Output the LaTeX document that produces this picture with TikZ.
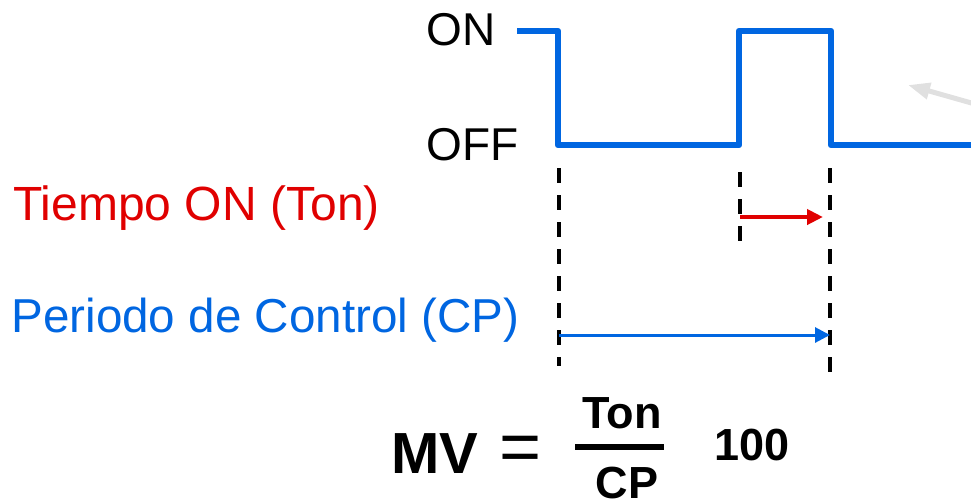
\documentclass[tikz,border=0pt]{standalone}
\usepackage{fontspec}
\setmainfont{Liberation Sans}
\usepackage{xcolor}
\usetikzlibrary{arrows.meta,positioning,calc}
\definecolor{sigblue}{RGB}{0,102,225}
\definecolor{tonred}{RGB}{224,0,0}
\definecolor{hintgray}{RGB}{224,224,224}

\begin{document}
\begin{tikzpicture}[
  x=0.5pt, y=-0.5pt,
  lbl/.style={anchor=base west, inner sep=0pt, font=\fontsize{23}{28}\selectfont},
  frac/.style={anchor=base, inner sep=0pt, font=\fontsize{22.5}{27}\selectfont\bfseries},
  wave/.style={draw=sigblue, line width=3.3pt, line join=round},
  guide/.style={draw=black, line width=1.75pt, dash pattern=on 7.5pt off 6pt},
  tonarrow/.style={draw=tonred, line width=2pt, -{Triangle[length=8pt,width=7.5pt]}},
  cparrow/.style={draw=sigblue, line width=1.5pt, -{Triangle[length=7.5pt,width=7.5pt]}},
  hint/.style={draw=hintgray, line width=2.5pt, -{Triangle[length=11pt,width=8pt]}},
]
\useasboundingbox (0,0) rectangle (971,500);
% signal levels
\node[lbl] (ON) at (426,45) {ON};
\node[lbl] (OFF) at (426,160) {OFF};
\draw[wave] (517,31) -- (558,31) -- (558,145) -- (739,145) -- (739,31)
  -- (831,31) -- (831,145) -- (975,145);
\draw[hint] (975,104) -- (908,85);
% period marks
\coordinate (G1top) at (559,168);
\coordinate (G1bot) at (559,366);
\coordinate (G2top) at (740,172);
\coordinate (G2bot) at (740,244);
\coordinate (G3top) at (830,168);
\coordinate (G3bot) at (830,378);
\draw[guide] (G1top) -- (G1bot);
\draw[guide] (G2top) -- (G2bot);
\draw[guide] (G3top) -- (G3bot);
\node[lbl, text=tonred, font=\fontsize{24}{28}\selectfont] (TON) at (13,220) {Tiempo ON (Ton)};
\node[lbl, text=sigblue, font=\fontsize{23.8}{28}\selectfont] (CP) at (11,332) {Periodo de Control (CP)};
\coordinate (T1) at (740,217);
\coordinate (T2) at (823,217);
\coordinate (P1) at (559,335);
\coordinate (P2) at (830,335);
\draw[tonarrow] (T1) -- (T2);
\draw[cparrow] (P1) -- (P2);
% formula
\node[anchor=base west, inner sep=0pt, font=\fontsize{29}{34}\selectfont\bfseries] (MV) at (391,473) {MV};
\node[anchor=base, inner sep=0pt, font=\fontsize{36}{42}\selectfont] (EQ) at (521,471) {=};
\node[frac] (NUM) at (622,428) {Ton};
\node[frac] (DEN) at (627,498) {CP};
\coordinate (B1) at (575,447);
\coordinate (B2) at (664,447);
\draw[line width=3pt] (B1) -- (B2);
\node[frac, anchor=base west] (HUND) at (714,460) {100};
\end{tikzpicture}
\end{document}
